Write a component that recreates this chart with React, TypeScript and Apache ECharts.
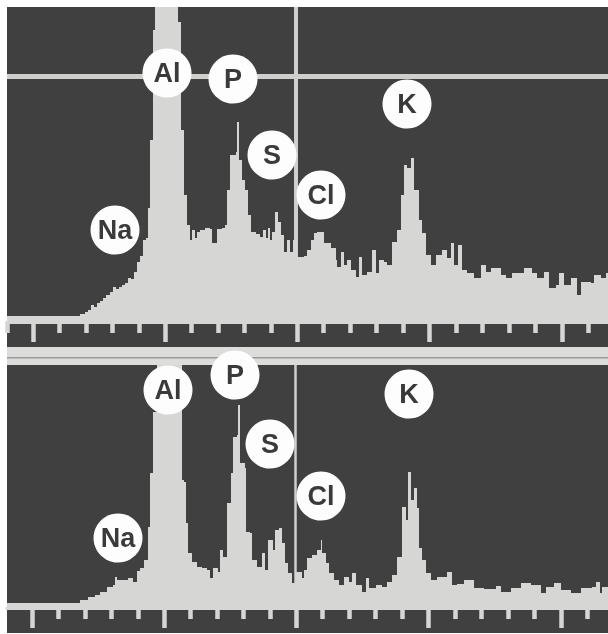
import React, { useEffect, useRef } from "react";
import * as echarts from "echarts";

const topChannels = [-26,47,52,55,58,61,64,67,70,73,77,80,83,86,89,92,95,98,101,104,107,110,113,115,117,120,122,145,148,151,154,157,159,162,164,167,172,177,179,182,184,189,192,194,197,203,204,206,209,212,215,218,223,227,230,233,235,237,239,242,245,248,251,254,257,260,264,271,274,278,281,284,288,291,298,303,304,308,311,314,318,323,326,329,334,339,343,346,351,354,359,364,368,371,374,378,381,386,389,393,398,403,409,414,418,421,425,429,434,441,448,453,458,468,473,479,491,499,504,511,516,523,526,531,538,544,548,558,561,568,573,575];
const topCounts = [6,8,10,12,17,15,19,21,24,27,30,35,33,35,37,39,44,43,50,60,66,82,84,114,182,292,400,300,192,127,97,82,92,84,90,92,94,93,79,79,93,94,97,132,167,170,200,162,142,132,107,90,88,85,92,84,94,82,90,110,100,87,70,82,70,82,65,66,72,82,89,90,90,79,74,62,55,70,57,62,52,45,65,47,50,72,49,62,60,57,80,92,127,157,154,164,132,102,89,67,57,67,72,64,79,57,77,52,49,44,57,50,54,47,44,49,54,49,44,50,34,37,49,37,44,27,40,39,47,44,49,49];

const lowChannels = [-25,45,48,56,63,68,75,81,83,85,96,101,105,108,112,116,118,121,125,150,152,154,156,160,165,170,175,178,181,186,188,191,195,199,201,205,206,208,213,214,218,220,225,230,233,236,241,243,247,250,253,256,260,263,270,272,275,280,285,289,290,294,297,302,307,312,317,320,324,330,334,337,344,350,355,360,365,370,374,376,379,382,385,387,390,394,399,405,415,420,425,432,442,452,464,469,479,489,499,509,514,522,529,539,549,560,564,568,570,576];
const lowCounts = [5,5,8,11,13,16,21,23,31,28,30,26,37,40,48,81,135,196,300,128,126,85,55,46,41,40,38,30,40,36,58,51,105,135,171,173,203,145,140,76,75,48,41,55,38,68,58,78,80,65,45,35,25,36,30,38,50,53,58,68,55,45,35,28,23,31,26,35,23,16,30,20,23,21,26,33,51,101,88,136,108,120,100,60,48,35,28,31,36,23,24,28,20,19,22,16,20,25,23,15,21,25,18,15,20,21,26,15,21,20];

const minorTicks = [-26,26,53,79,106,158,185,211,238,290,317,343,370,423,449,476,502,555];
const majorTicks = [0,132,264,396,529];

const elements = ["Al", "P", "S", "Cl", "K", "Na"];
const topLabelChannels = [134, 200, 239, 288, 374, 82];
const topLabelCounts = [249, 243, 167, 127, 218, 92];
const lowLabelChannels = [136, 203, 238, 289, 377, 86];
const lowLabelCounts = [218, 233, 164, 112, 214, 70];

const topCursorChannel = 263;
const topCursorCount = 246;
const lowCursorChannel = 263;

const DARK = "#404040";
const FILL = "#d6d6d4";

const zip = (a: number[], b: number[]) => a.map((v, i) => [v, b[i]]);

function panelAxes(gridIndex: number, min: number, max: number) {
  const base = {
    type: "value", gridIndex, min, max, position: "bottom",
    splitLine: { show: false }, axisLabel: { show: false },
    axisLine: { show: true, onZero: false, lineStyle: { color: FILL, width: 3 } },
  };
  return [
    { ...base, axisTick: { show: true, customValues: minorTicks, length: 11, lineStyle: { color: FILL, width: 4.5 } } },
    { ...base, axisTick: { show: true, customValues: majorTicks, length: 20, lineStyle: { color: FILL, width: 4.5 } } },
  ];
}

function labelSeries(xAxisIndex: number, yAxisIndex: number, chs: number[], counts: number[]) {
  return {
    type: "scatter", xAxisIndex, yAxisIndex, z: 6, clip: false, symbol: "circle", symbolSize: 49,
    itemStyle: { color: "#fdfdfd", opacity: 1 },
    label: {
      show: true, position: "inside", formatter: "{b}", color: "#3a3a3a",
      fontFamily: "Liberation Sans", fontWeight: "bold", fontSize: 27,
    },
    data: elements.map((name, i) => ({ name, value: [chs[i], counts[i]] })),
  };
}

function spectrum(xAxisIndex: number, yAxisIndex: number, data: number[][], markLines: any[]) {
  return {
    type: "line", xAxisIndex, yAxisIndex, step: "end", z: 3, showSymbol: false, symbol: "none", clip: true,
    lineStyle: { width: 0 }, areaStyle: { color: FILL, opacity: 1 },
    markLine: {
      silent: true, symbol: "none", label: { show: false }, z: 2,
      lineStyle: { color: "#cfcfcd", type: "solid" }, data: markLines,
    },
    data,
  };
}

export default function App() {
  const ref = useRef<HTMLDivElement>(null);
  useEffect(() => {
    document.body.style.margin = "0";
    document.body.style.background = "#fff";
    const chart = echarts.init(ref.current!, null, { renderer: "svg" });
    chart.setOption({
      animation: false,
      graphic: [
        { type: "rect", z: -1, shape: { x: 7, y: 7, width: 601, height: 340 }, style: { fill: DARK } },
        { type: "rect", z: -1, shape: { x: 7, y: 347, width: 601, height: 18 }, style: { fill: "#dcdcda" } },
        { type: "rect", z: -1, shape: { x: 7, y: 357, width: 601, height: 1.5 }, style: { fill: "#9a9a98" } },
        { type: "rect", z: -1, shape: { x: 7, y: 365, width: 601, height: 268 }, style: { fill: DARK } },
      ],
      grid: [
        { left: 7, top: 7, width: 601, height: 315 },
        { left: 7, top: 365, width: 601, height: 243 },
      ],
      xAxis: [...panelAxes(0, -26, 575), ...panelAxes(1, -25, 576)],
      yAxis: [
        { type: "value", gridIndex: 0, min: 0, max: 315, show: false },
        { type: "value", gridIndex: 1, min: 0, max: 243, show: false },
      ],
      series: [
        spectrum(0, 0, zip(topChannels, topCounts), [
          { xAxis: topCursorChannel, lineStyle: { width: 4 } },
          { yAxis: topCursorCount, lineStyle: { width: 5 } },
        ]),
        spectrum(2, 1, zip(lowChannels, lowCounts), [{ xAxis: lowCursorChannel, lineStyle: { width: 2.5 } }]),
        labelSeries(0, 0, topLabelChannels, topLabelCounts),
        labelSeries(2, 1, lowLabelChannels, lowLabelCounts),
      ],
    });
    return () => chart.dispose();
  }, []);
  return <div ref={ref} style={{ width: 608, height: 634, filter: "blur(0.6px)" }} />;
}
